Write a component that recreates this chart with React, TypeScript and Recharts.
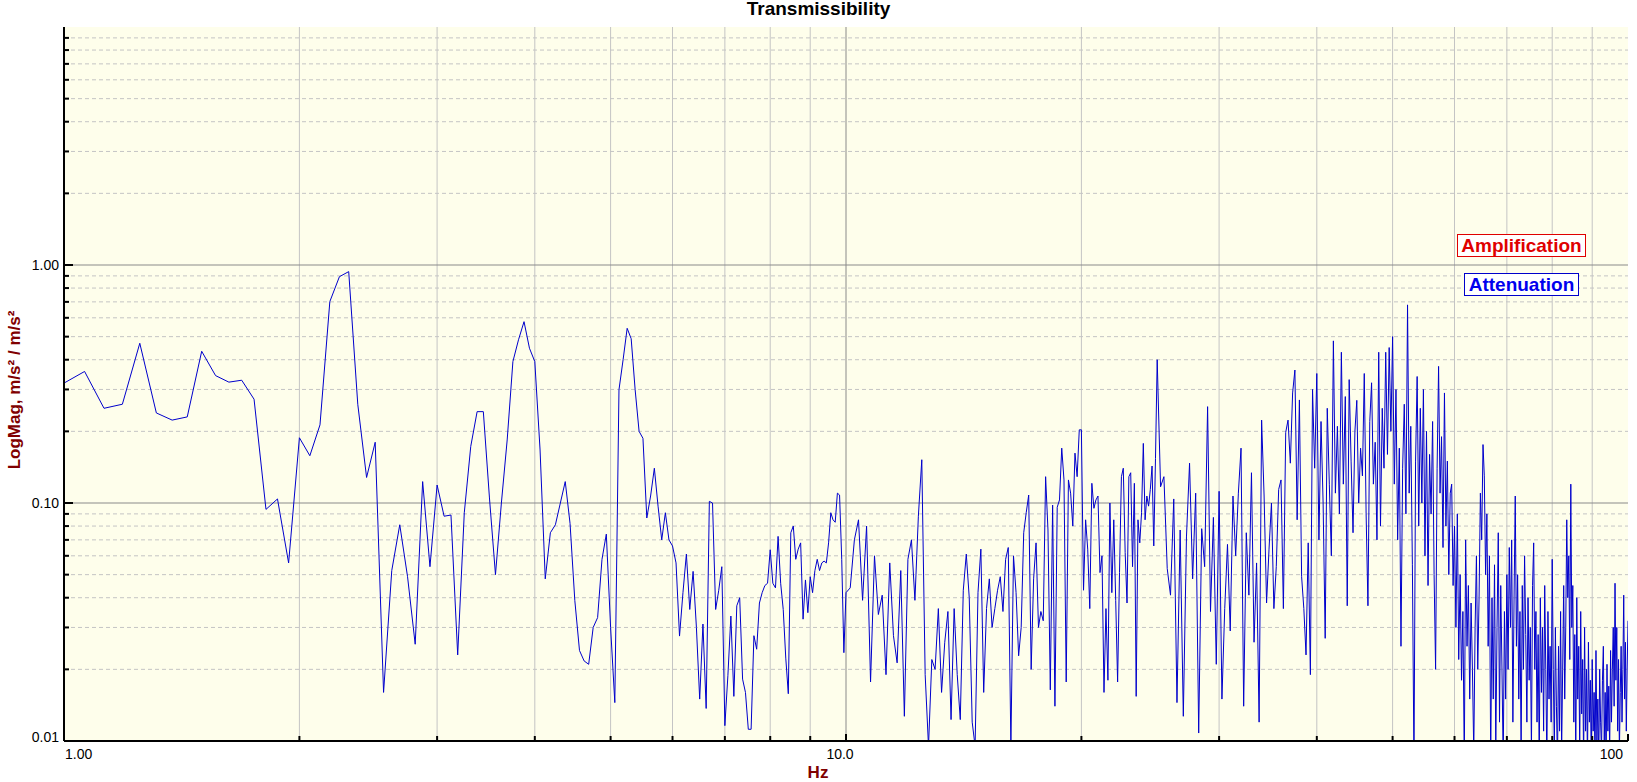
import React from "react";
import { LineChart, Line, XAxis, YAxis, CartesianGrid, Label } from "recharts";

// spectrum bins: 1..10 Hz every 0.0625, 10..25 every 0.125, 25..100 every 0.25
const lowStart = 1;
const lowStep = 0.0625;
const lowMag = [
  0.319, 0.357, 0.25, 0.26, 0.469, 0.239, 0.223, 0.23, 0.434, 0.343, 0.322, 0.328, 0.273, 0.094, 0.104, 0.056,
  0.188, 0.158, 0.213, 0.702, 0.893, 0.938, 0.26, 0.128,
  0.18, 0.016, 0.052, 0.081, 0.049, 0.0255, 0.123, 0.054,
  0.119, 0.088, 0.089, 0.023, 0.091, 0.173, 0.242, 0.242, 0.105, 0.05, 0.1, 0.184, 0.393, 0.485, 0.578, 0.447,
  0.393, 0.167, 0.048, 0.075, 0.081, 0.1, 0.123, 0.082, 0.039, 0.024, 0.0217, 0.021, 0.03, 0.033, 0.058, 0.074,
  0.03, 0.0145, 0.299, 0.4, 0.542, 0.49, 0.299, 0.2, 0.187, 0.0865, 0.107, 0.14, 0.097, 0.07, 0.091, 0.07,
  0.066, 0.056, 0.0276, 0.042, 0.061,
  0.0357, 0.0516, 0.03, 0.015, 0.031, 0.0137, 0.1016, 0.1, 0.0357, 0.043, 0.054,
  0.0116, 0.0188, 0.0335, 0.0154, 0.037, 0.04, 0.0182, 0.016, 0.0112, 0.0112, 0.0277, 0.0243, 0.038, 0.042, 0.045, 0.046,
  0.0636, 0.046, 0.044, 0.0724, 0.046, 0.0357, 0.0223, 0.0158, 0.075, 0.08, 0.058, 0.064, 0.068, 0.0325, 0.0475, 0.0346,
  0.049, 0.042, 0.052, 0.058, 0.052, 0.056, 0.057, 0.056, 0.068, 0.091, 0.085, 0.083, 0.11, 0.108, 0.058, 0.0235,
  0.042,
];

const midStart = 10.125;
const midStep = 0.125;
const midMag = [
  0.044, 0.07, 0.085, 0.039, 0.08, 0.0177, 0.06, 0.034,
  0.041, 0.019, 0.056, 0.0277, 0.0213, 0.052, 0.0127, 0.058,
  0.07, 0.039, 0.088, 0.152, 0.019, 0.0095, 0.022, 0.02,
  0.036, 0.016, 0.026, 0.035, 0.0123, 0.036, 0.019, 0.0123,
  0.043, 0.061, 0.04, 0.012, 0.0095, 0.042, 0.064, 0.016,
  0.036, 0.048, 0.03, 0.036, 0.043,
  0.049, 0.035, 0.058,
  0.065, 0.0095, 0.06, 0.042, 0.0228, 0.03, 0.075, 0.091,
  0.108, 0.02, 0.048, 0.068, 0.03, 0.035, 0.032, 0.129,
  0.077, 0.0164, 0.098, 0.014, 0.096, 0.103, 0.17, 0.125,
  0.0177, 0.125, 0.11, 0.08, 0.162, 0.129, 0.203, 0.203,
  0.043, 0.085, 0.064, 0.036, 0.121, 0.095, 0.103, 0.107,
  0.051, 0.06, 0.016, 0.036, 0.018, 0.1, 0.042, 0.085,
  0.039, 0.0177, 0.051, 0.129, 0.14, 0.062, 0.038, 0.129,
  0.134, 0.054, 0.121, 0.0154, 0.085, 0.068, 0.091, 0.178,
  0.085, 0.107, 0.097, 0.114, 0.143, 0.066, 0.154, 0.4,
];

const highStart = 25.25;
const highStep = 0.25;
const highMag = [
  0.117, 0.129, 0.053, 0.041, 0.104, 0.0145, 0.077, 0.0127,
  0.072, 0.147, 0.048, 0.11, 0.0108, 0.078, 0.054, 0.254,
  0.035, 0.087, 0.021, 0.112, 0.015, 0.036, 0.067, 0.029,
  0.107, 0.06, 0.11, 0.17, 0.014, 0.075, 0.041, 0.134,
  0.026, 0.056, 0.012, 0.223, 0.107, 0.038, 0.064, 0.1,
  0.036, 0.054, 0.114, 0.125, 0.036, 0.198, 0.223, 0.147,
  0.29, 0.362, 0.085, 0.271, 0.049, 0.036, 0.023, 0.068, 0.019,
  0.3, 0.14, 0.35, 0.07, 0.22, 0.1, 0.027, 0.25, 0.12, 0.06, 0.48, 0.11, 0.21, 0.09, 0.43, 0.12, 0.28, 0.037, 0.33, 0.15,
  0.075, 0.2, 0.27, 0.1, 0.17, 0.13, 0.35, 0.09, 0.037, 0.22, 0.32, 0.12, 0.18, 0.07, 0.43, 0.08, 0.25, 0.14, 0.43, 0.16,
  0.45, 0.2, 0.5, 0.12, 0.3, 0.07, 0.17, 0.025, 0.14, 0.26, 0.09, 0.68, 0.11, 0.21, 0.055, 0.008, 0.15, 0.34, 0.08, 0.25,
  0.1, 0.3, 0.06, 0.2, 0.045, 0.16, 0.09, 0.22, 0.05, 0.02, 0.14, 0.375, 0.11, 0.19, 0.065, 0.29, 0.08, 0.15, 0.05, 0.11,
  0.12, 0.045, 0.08, 0.03, 0.09, 0.022, 0.05, 0.018, 0.035, 0.008, 0.07, 0.025, 0.045, 0.015, 0.038, 0.02, 0.009, 0.03, 0.06, 0.02,
  0.04, 0.11, 0.07, 0.176, 0.13, 0.05, 0.09, 0.025, 0.06, 0.008, 0.04, 0.015, 0.055, 0.009, 0.03, 0.075, 0.012, 0.045, 0.02, 0.008,
  0.035, 0.015, 0.05, 0.02, 0.065, 0.03, 0.07, 0.012, 0.04, 0.107, 0.025, 0.05, 0.015, 0.035, 0.009, 0.045, 0.02, 0.06, 0.028, 0.012,
  0.04, 0.018, 0.03, 0.009, 0.045, 0.068, 0.02, 0.035, 0.012, 0.028, 0.008, 0.04, 0.016, 0.03, 0.011, 0.045, 0.02, 0.008, 0.035, 0.015,
  0.025, 0.012, 0.058, 0.02, 0.009, 0.03, 0.014, 0.008, 0.025, 0.011, 0.035, 0.009, 0.02, 0.045, 0.015, 0.03, 0.085, 0.04, 0.06, 0.022,
  0.12, 0.03, 0.045, 0.012, 0.028, 0.008, 0.04, 0.015, 0.025, 0.009, 0.035, 0.013, 0.022, 0.008, 0.03, 0.011, 0.02, 0.008, 0.026, 0.012,
  0.018, 0.008, 0.022, 0.011, 0.016, 0.008, 0.024, 0.01, 0.015, 0.008, 0.02, 0.012, 0.009, 0.018, 0.025, 0.01, 0.016, 0.008, 0.021, 0.011,
  0.017, 0.009, 0.024, 0.012, 0.02, 0.03, 0.014, 0.046, 0.018, 0.03, 0.011, 0.022, 0.009, 0.016, 0.025, 0.012, 0.02, 0.041, 0.015, 0.026, 0.011, 0.02, 0.032,
];

const xTicks = [1, 2, 3, 4, 5, 6, 7, 8, 9, 10, 20, 30, 40, 50, 60, 70, 80, 90, 100];
const xMinorGrid = [2, 3, 4, 5, 6, 7, 8, 9, 20, 30, 40, 50, 60, 70, 80, 90];
const xMajorGrid = [10];
const xLabels: Record<string, string> = { "1": "1.00", "10": "10.0", "100": "100" };

const yTicks = [
  0.01, 0.02, 0.03, 0.04, 0.05, 0.06, 0.07, 0.08, 0.09,
  0.1, 0.2, 0.3, 0.4, 0.5, 0.6, 0.7, 0.8, 0.9,
  1, 2, 3, 4, 5, 6, 7, 8, 9,
];
const yMinorGrid = [
  0.02, 0.03, 0.04, 0.05, 0.06, 0.07, 0.08, 0.09,
  0.2, 0.3, 0.4, 0.5, 0.6, 0.7, 0.8, 0.9,
  2, 3, 4, 5, 6, 7, 8, 9,
];
const yMajorGrid = [0.1, 1];
const yLabels: Record<string, string> = { "0.01": "0.01", "0.1": "0.10", "1": "1.00" };

const data = [
  ...lowMag.map((m, i) => ({ hz: lowStart + i * lowStep, mag: m })),
  ...midMag.map((m, i) => ({ hz: midStart + i * midStep, mag: m })),
  ...highMag.map((m, i) => ({ hz: highStart + i * highStep, mag: m })),
];

const FONT = "'Liberation Sans', Arial, sans-serif";
const DARK_RED = "#800000";

function XTick(props: any) {
  const { x, y, payload } = props;
  const v = payload.value;
  const label = xLabels[String(v)];
  const anchor = v === 1 ? "start" : v === 100 ? "end" : "middle";
  const dx = v === 1 ? 1 : v === 100 ? -5 : -6;
  return (
    <g>
      <line x1={x} x2={x} y1={y} y2={y - (label ? 7 : 5)} stroke="#000" strokeWidth={2} />
      {label && (
        <text x={x + dx} y={y + 18} textAnchor={anchor} fontSize={14} fill="#000">
          {label}
        </text>
      )}
    </g>
  );
}

function YTick(props: any) {
  const { x, y, payload } = props;
  const v = payload.value;
  const label = yLabels[String(v)];
  return (
    <g>
      <line x1={x} x2={x + (label ? 9 : 5)} y1={y} y2={y} stroke="#000" strokeWidth={2} />
      {label && (
        <text x={x - 5} y={y + (v === 0.01 ? 1 : 5)} textAnchor="end" fontSize={14} fill="#000">
          {label}
        </text>
      )}
    </g>
  );
}

export default function App() {
  return (
    <div style={{ position: "absolute", left: 0, top: 0, width: 1637, height: 782, background: "#fff", fontFamily: FONT }}>
      <div style={{ position: "absolute", left: 0, top: -1, width: 1637, textAlign: "center", fontWeight: "bold", fontSize: 19, lineHeight: "20px" }}>
        Transmissibility
      </div>
      <LineChart width={1637} height={782} data={data} margin={{ top: 27, right: 9, bottom: 0, left: 0 }}>
        <CartesianGrid fill="#fefeeb" horizontal={false} verticalValues={xMinorGrid} stroke="#c4c4c4" />
        <CartesianGrid vertical={false} horizontalValues={yMinorGrid} stroke="#c4c4c4" strokeDasharray="4 3" />
        <CartesianGrid verticalValues={xMajorGrid} horizontalValues={yMajorGrid} stroke="#8a8a8a" />
        <XAxis
          dataKey="hz"
          type="number"
          scale="log"
          domain={[1, 100]}
          allowDataOverflow
          ticks={xTicks}
          interval={0}
          height={41}
          tickSize={0}
          tickMargin={0}
          tickLine={false}
          tick={<XTick />}
          axisLine={{ stroke: "#000", strokeWidth: 2 }}
        >
          <Label
            content={() => (
              <text x={818} y={778} textAnchor="middle" fill={DARK_RED} fontWeight="bold" fontSize={17}>
                Hz
              </text>
            )}
          />
        </XAxis>
        <YAxis
          type="number"
          scale="log"
          domain={[0.01, 10]}
          allowDataOverflow
          ticks={yTicks}
          interval={0}
          width={64}
          tickSize={0}
          tickMargin={0}
          tickLine={false}
          tick={<YTick />}
          axisLine={{ stroke: "#000", strokeWidth: 2 }}
        >
          <Label
            content={() => (
              <text
                x={14}
                y={390}
                transform="rotate(-90 14 390)"
                textAnchor="middle"
                dominantBaseline="central"
                fill={DARK_RED}
                fontWeight="bold"
                fontSize={17}
              >
                LogMag, m/s² / m/s²
              </text>
            )}
          />
        </YAxis>
        <Line dataKey="mag" type="linear" stroke="#0000cc" strokeWidth={1} dot={false} isAnimationActive={false} />
      </LineChart>
      <div
        style={{
          position: "absolute", left: 1457, top: 234, width: 129, height: 23, boxSizing: "border-box",
          border: "1px solid #e00000", background: "#fff", color: "#e00000", fontWeight: "bold",
          fontSize: 19, lineHeight: "21px", textAlign: "center",
        }}
      >
        Amplification
      </div>
      <div
        style={{
          position: "absolute", left: 1464, top: 273, width: 115, height: 23, boxSizing: "border-box",
          border: "1px solid #0000cc", background: "#fff", color: "#0000ee", fontWeight: "bold",
          fontSize: 19, lineHeight: "21px", textAlign: "center",
        }}
      >
        Attenuation
      </div>
    </div>
  );
}
